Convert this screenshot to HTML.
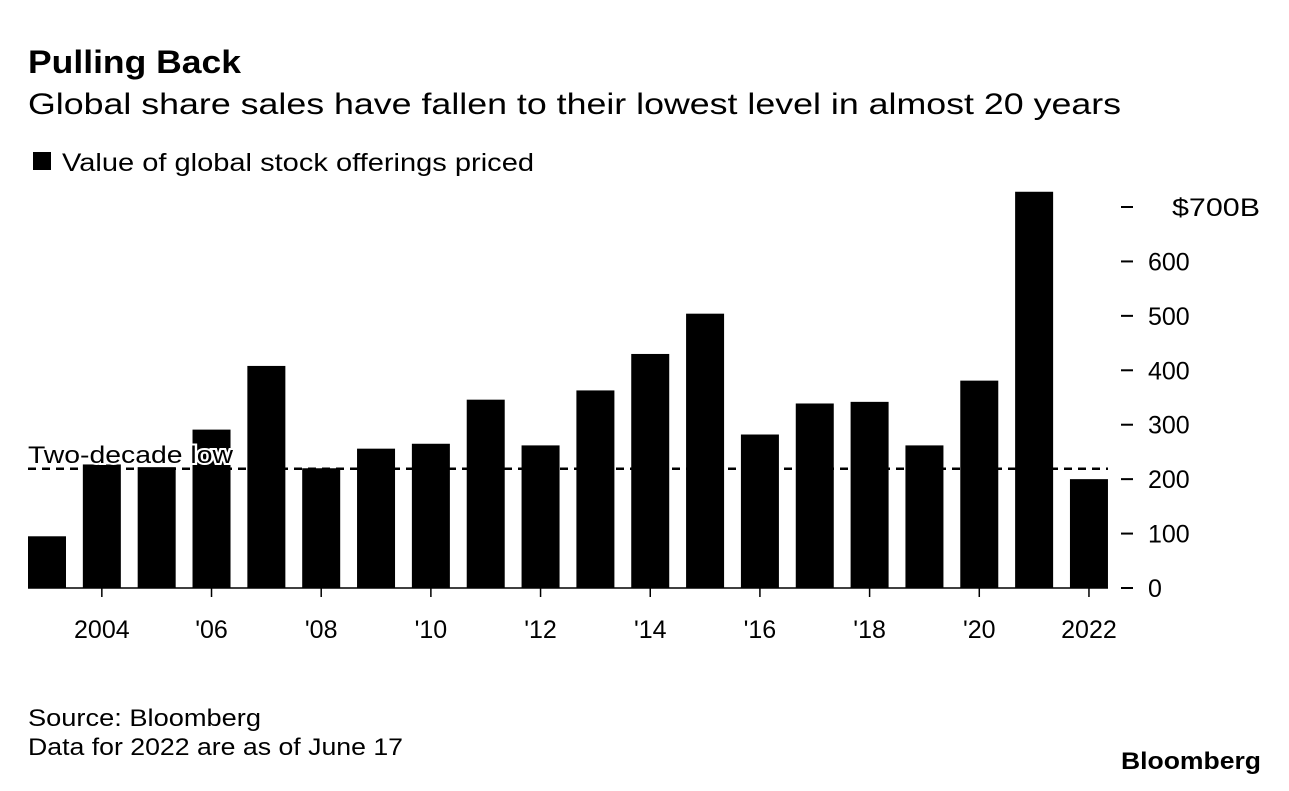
<!DOCTYPE html>
<html><head><meta charset="utf-8"><style>
body{margin:0;background:#fff;width:1289px;height:786px;overflow:hidden;font-family:"Liberation Sans",sans-serif;}
svg text{font-family:"Liberation Sans",sans-serif;}
</style></head><body>
<svg width="1289" height="786">
<text x="28" y="73" font-size="32" font-weight="bold" textLength="213" lengthAdjust="spacingAndGlyphs">Pulling Back</text>
<text x="28" y="114" font-size="30" textLength="1093" lengthAdjust="spacingAndGlyphs">Global share sales have fallen to their lowest level in almost 20 years</text>
<rect x="33" y="152" width="18" height="18" fill="#000"/>
<text x="62" y="171" font-size="25" textLength="472" lengthAdjust="spacingAndGlyphs">Value of global stock offerings priced</text>
<g id="plot"></g>
<text x="28" y="726" font-size="24" textLength="233" lengthAdjust="spacingAndGlyphs">Source: Bloomberg</text>
<text x="28" y="755" font-size="24" textLength="375" lengthAdjust="spacingAndGlyphs">Data for 2022 are as of June 17</text>
<text x="1121" y="769" font-size="24" font-weight="bold" textLength="140" lengthAdjust="spacingAndGlyphs">Bloomberg</text>
</svg>
<script>
const years=[2003,2004,2005,2006,2007,2008,2009,2010,2011,2012,2013,2014,2015,2016,2017,2018,2019,2020,2021,2022];
const values=[95,227,222,291,408,220,256,265,346,262,363,430,504,282,339,342,262,381,728,200];
const yTicks=[0,100,200,300,400,500,600,700];
const yTickLabels=["0","100","200","300","400","500","600","$700B"];
const xLabelYears=[2004,2006,2008,2010,2012,2014,2016,2018,2020,2022];
const xLabels=["2004","'06","'08","'10","'12","'14","'16","'18","'20","2022"];
const lowValue=219;
const NS="http://www.w3.org/2000/svg";
const g=document.getElementById('plot');
const y0=588,pxPer=381/700;
const yS=v=>y0-v*pxPer;
const xS=yr=>47+(yr-2003)*54.84;
const bw=38;
function mk(t,a){const e=document.createElementNS(NS,t);for(const k in a)e.setAttribute(k,a[k]);g.appendChild(e);return e;}
years.forEach((yr,i)=>{
 const r=mk('rect',{x:xS(yr)-bw/2,y:yS(values[i]),width:bw,height:y0-yS(values[i]),fill:'#000'});
 
 
});
const base=mk('line',{x1:28,x2:1108,y1:y0,y2:y0,stroke:'#000','stroke-width':1.5});


yTicks.forEach((v,i)=>{
 const l=mk('line',{x1:1121,x2:1133,y1:yS(v),y2:yS(v),stroke:'#000','stroke-width':2});
 
 
 const t=mk('text',{x:i==7?1172:1148,y:yS(v)+9,'font-size':25});
 t.textContent=yTickLabels[i];
 if(i==7){t.setAttribute('textLength',88);t.setAttribute('lengthAdjust','spacingAndGlyphs');}
 
 
});
xLabelYears.forEach((yr,i)=>{
 const l=mk('line',{x1:xS(yr),x2:xS(yr),y1:y0,y2:y0+9,stroke:'#000','stroke-width':1.5});
 
 
 const t=mk('text',{x:xS(yr),y:638,'font-size':25,'text-anchor':'middle'});
 t.textContent=xLabels[i];
 
 
});
const d=mk('line',{x1:28,x2:1108,y1:yS(lowValue),y2:yS(lowValue),stroke:'#000','stroke-width':2.5,'stroke-dasharray':'8,6'});


const lt=mk('text',{x:28,y:yS(lowValue)-6,'font-size':24,textLength:205,lengthAdjust:'spacingAndGlyphs',stroke:'#fff','stroke-width':4,'paint-order':'stroke',fill:'#000'});
lt.textContent='Two-decade low';


</script>
</body></html>
